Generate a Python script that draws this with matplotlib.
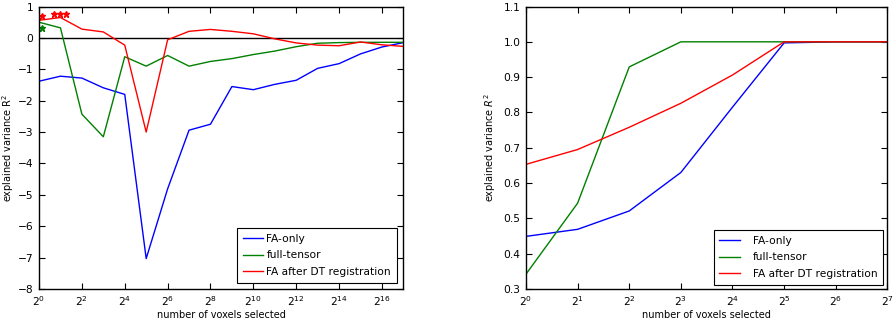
import numpy as np
import matplotlib
matplotlib.use('Agg')
import matplotlib.pyplot as plt

# left panel: R^2 vs number of voxels (powers of two)
left_exp = list(range(0, 18))
left_fa = [-1.38, -1.22, -1.28, -1.59, -1.80, -7.03, -4.81, -2.94, -2.75, -1.55,
           -1.65, -1.48, -1.35, -0.97, -0.82, -0.51, -0.29, -0.15]
left_full = [0.50, 0.32, -2.43, -3.15, -0.60, -0.90, -0.56, -0.90, -0.75, -0.66,
             -0.53, -0.42, -0.28, -0.17, -0.15, -0.14, -0.14, -0.14]
left_dt = [0.56, 0.65, 0.28, 0.19, -0.23, -3.00, -0.06, 0.21, 0.27, 0.21,
           0.13, -0.03, -0.16, -0.23, -0.25, -0.13, -0.22, -0.27]

# significance stars (exponent, value)
red_star_exp = [0.15, 0.70, 0.98, 1.26]
red_star_val = [0.69, 0.75, 0.75, 0.75]
green_star_exp = [0.15]
green_star_val = [0.32]

# right panel
right_exp = list(range(0, 8))
right_fa = [0.449, 0.469, 0.521, 0.630, 0.815, 0.997, 1.0, 1.0]
right_full = [0.342, 0.543, 0.929, 1.0, 1.0, 1.0, 1.0, 1.0]
right_dt = [0.653, 0.695, 0.758, 0.826, 0.906, 1.0, 1.0, 1.0]

labels = ['FA-only', 'full-tensor', 'FA after DT registration']

plt.rcParams['font.family'] = 'DejaVu Sans'
plt.rcParams['xtick.direction'] = 'in'
plt.rcParams['ytick.direction'] = 'in'
plt.rcParams['xtick.top'] = True
plt.rcParams['ytick.right'] = True
plt.rcParams['xtick.major.size'] = 4
plt.rcParams['ytick.major.size'] = 4
plt.rcParams['xtick.minor.size'] = 0
plt.rcParams['ytick.minor.size'] = 0
plt.rcParams['xtick.major.pad'] = 4
plt.rcParams['ytick.major.pad'] = 4
plt.rcParams['axes.linewidth'] = 1.0

fig = plt.figure(figsize=(8.93, 3.21), dpi=100)
ax1 = fig.add_axes([0.0437, 0.0997, 0.408, 0.880])
ax2 = fig.add_axes([0.589, 0.0997, 0.4047, 0.880])

x1 = 2.0 ** np.array(left_exp)
ax1.axhline(0, color='k', lw=1)
ax1.plot(x1, left_fa, color='b', lw=1, label=labels[0])
ax1.plot(x1, left_full, color='g', lw=1, label=labels[1])
ax1.plot(x1, left_dt, color='r', lw=1, label=labels[2])
ax1.plot(2.0 ** np.array(red_star_exp), red_star_val, ls='none', marker='*',
         color='r', ms=5, mec='r')
ax1.plot(2.0 ** np.array(green_star_exp), green_star_val, ls='none', marker='*',
         color='g', ms=5, mec='g')
ax1.set_xscale('log', base=2)
ax1.set_xlim(2 ** 0, 2 ** 17)
ax1.set_ylim(-8, 1)
ax1.set_xticks([2.0 ** k for k in range(0, 17, 2)])
ax1.set_yticks(range(-8, 2))
ax1.set_xlabel('number of voxels selected', fontsize=7, labelpad=1)
ax1.set_ylabel('explained variance R$^2$', fontsize=7, labelpad=1)
ax1.tick_params(labelsize=7.7)
leg1 = ax1.legend(loc='lower right', fontsize=7.7, fancybox=False,
                  edgecolor='k', framealpha=1, handlelength=1.9,
                  handletextpad=0.3, labelspacing=0.6, borderpad=0.55,
                  borderaxespad=0.6)
leg1.get_frame().set_linewidth(0.8)

x2 = 2.0 ** np.array(right_exp)
ax2.plot(x2, right_fa, color='b', lw=1, label=labels[0])
ax2.plot(x2, right_full, color='g', lw=1, label=labels[1])
ax2.plot(x2, right_dt, color='r', lw=1, label=labels[2])
ax2.set_xscale('log', base=2)
ax2.set_xlim(2 ** 0, 2 ** 7)
ax2.set_ylim(0.3, 1.1)
ax2.set_xticks([2.0 ** k for k in range(0, 8)])
ax2.set_yticks(np.arange(0.3, 1.11, 0.1))
ax2.yaxis.set_major_formatter(matplotlib.ticker.FormatStrFormatter('%.1f'))
ax2.set_xlabel('number of voxels selected', fontsize=7, labelpad=1)
ax2.set_ylabel('explained variance $R^2$', fontsize=7, labelpad=4)
ax2.tick_params(labelsize=7.7)
leg2 = ax2.legend(loc='lower right', fontsize=7.7, fancybox=False,
                  edgecolor='k', framealpha=1, handlelength=1.9,
                  handletextpad=1.2, labelspacing=0.6, borderpad=0.55,
                  borderaxespad=0.4)
leg2.get_frame().set_linewidth(0.8)

fig.savefig('out.png', dpi=100, facecolor='white')
